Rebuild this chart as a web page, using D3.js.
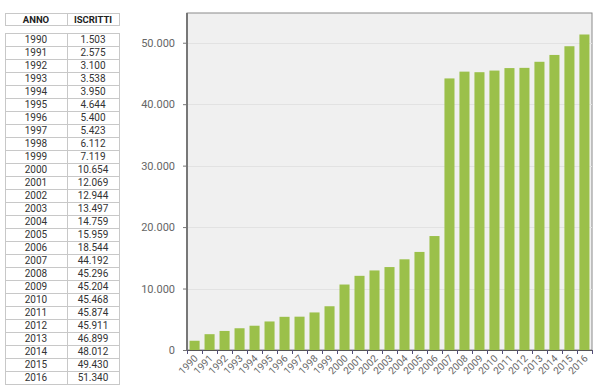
<!DOCTYPE html>
<meta charset="utf-8">
<style>
	body { margin: 0; background: #fff; font-family: Roboto, "Liberation Sans", sans-serif; }
	.grid line { stroke: #e2e2e2; }
	.tbl line, .tbl rect { stroke: #c8c8c8; fill: none; }
</style>
<svg width="600" height="391"></svg>
<script src="https://d3js.org/d3.v7.min.js"></script>
<script>
	// data
	var anni = ["1990","1991","1992","1993","1994","1995","1996","1997","1998","1999",
		"2000","2001","2002","2003","2004","2005","2006","2007","2008","2009",
		"2010","2011","2012","2013","2014","2015","2016"];
	var iscritti = [1503, 2575, 3100, 3538, 3950, 4644, 5400, 5423, 6112, 7119,
		10654, 12069, 12944, 13497, 14759, 15959, 18544, 44192, 45296, 45204,
		45468, 45874, 45911, 46899, 48012, 49430, 51340];
	var headers = ["ANNO", "ISCRITTI"];
	var yTicks = [0, 10000, 20000, 30000, 40000, 50000];

	var it = d3.formatLocale({decimal: ",", thousands: ".", grouping: [3], currency: ["€", ""]});
	var fmt = it.format(",d");

	var svg = d3.select("svg");

	// table
	var tbl = svg.append("g").attr("class", "tbl");
	var colX = d3.scaleBand().domain(headers).range([5, 120]);
	var rowY = d3.scaleBand().domain(anni).range([33, 384]);

	tbl.append("rect").attr("x", 5.5).attr("y", 13.5).attr("width", 114).attr("height", 12);
	tbl.append("line").attr("x1", 67.5).attr("x2", 67.5).attr("y1", 13.5).attr("y2", 25.5);
	tbl.selectAll("text.h").data(headers).enter().append("text")
		.attr("class", "h")
		.attr("x", function(d, i) { return i == 0 ? 36 : 93; })
		.attr("y", 23)
		.attr("text-anchor", "middle")
		.attr("font-size", 9.5)
		.attr("font-weight", "bold")
		.attr("fill", "#222")
		.text(function(d) { return d; });

	tbl.append("rect").attr("x", 5.5).attr("y", 33.5).attr("width", 114).attr("height", 351);
	tbl.append("line").attr("x1", 67.5).attr("x2", 67.5).attr("y1", 33.5).attr("y2", 384.5);
	tbl.selectAll("line.r").data(anni.slice(1)).enter().append("line")
		.attr("class", "r")
		.attr("x1", 5.5).attr("x2", 119.5)
		.attr("y1", function(d) { return Math.round(rowY(d)) + 0.5; })
		.attr("y2", function(d) { return Math.round(rowY(d)) + 0.5; });
	var rows = tbl.selectAll("g.row").data(anni).enter().append("g").attr("class", "row")
		.attr("transform", function(d) { return "translate(0," + (rowY(d) + rowY.bandwidth() / 2 + 3.5) + ")"; });
	rows.append("text").attr("x", 36).attr("text-anchor", "middle")
		.attr("font-size", 10).attr("fill", "#333")
		.text(function(d) { return d; });
	rows.append("text").attr("x", 93).attr("text-anchor", "middle")
		.attr("font-size", 10).attr("fill", "#333")
		.text(function(d, i) { return fmt(iscritti[i]); });

	// chart
	var x = d3.scaleBand().domain(anni).range([187, 592]).paddingInner(0.33).paddingOuter(0.17);
	var y = d3.scaleLinear().domain([0, 55000]).range([350, 12]);

	var chart = svg.append("g");
	chart.append("rect").attr("x", 187).attr("y", 13).attr("width", 405).attr("height", 337)
		.attr("fill", "#f0f0f0").attr("stroke", "#8a8a8a").attr("stroke-width", 1);

	chart.append("g").attr("class", "grid")
		.selectAll("line").data(yTicks.slice(1)).enter().append("line")
		.attr("x1", 187).attr("x2", 592)
		.attr("y1", function(d) { return Math.round(y(d)) + 0.5; })
		.attr("y2", function(d) { return Math.round(y(d)) + 0.5; });

	chart.selectAll("rect.bar").data(iscritti).enter().append("rect")
		.attr("class", "bar")
		.attr("x", function(d, i) { return x(anni[i]); })
		.attr("width", x.bandwidth())
		.attr("y", function(d) { return y(d); })
		.attr("height", function(d) { return y(0) - y(d); })
		.attr("fill", "#9bc04a");

	// y axis
	var yAxis = chart.append("g").attr("transform", "translate(187,0)")
		.call(d3.axisLeft(y).tickValues(yTicks).tickSize(4).tickPadding(8).tickFormat(fmt));
	yAxis.select(".domain").attr("stroke", "#777").attr("stroke-width", 2).attr("d", "M0,13V350");
	yAxis.selectAll(".tick line").attr("stroke", "#777");
	yAxis.selectAll("text").attr("fill", "#666").attr("font-size", 11).attr("font-family", "Roboto, sans-serif");

	// x axis
	var xAxis = chart.append("g").attr("transform", "translate(0,350)")
		.call(d3.axisBottom(x).tickSize(0).tickPadding(0));
	xAxis.select(".domain").attr("stroke", "#555").attr("d", "M187,0.5H592");
	xAxis.selectAll(".tick text")
		.attr("fill", "#666").attr("font-size", 10).attr("font-family", "Roboto, sans-serif")
		.attr("text-anchor", "end")
		.attr("dy", 0)
		.attr("transform", "translate(4,9) rotate(-45)");
	// ticks at band edges
	var edges = anni.map(function(d) { return x(d) - x.step() * x.paddingInner() / 2; }).concat([592]);
	xAxis.selectAll("line.edge").data(edges).enter().append("line")
		.attr("class", "edge")
		.attr("x1", function(d) { return Math.round(d) + 0.5; })
		.attr("x2", function(d) { return Math.round(d) + 0.5; })
		.attr("y1", 0).attr("y2", 4)
		.attr("stroke", "#55507a");
</script>
